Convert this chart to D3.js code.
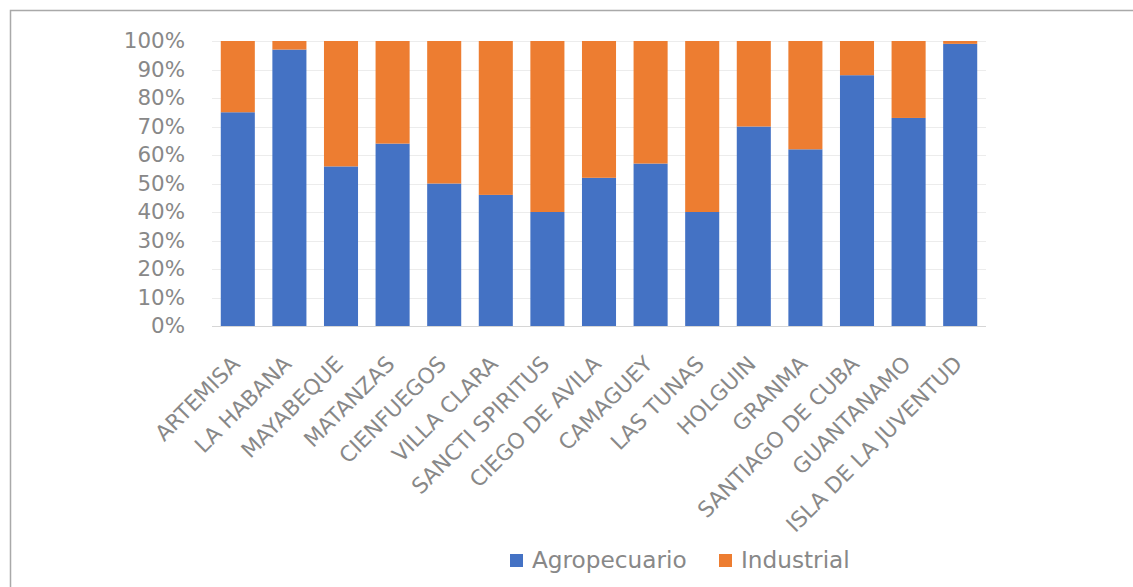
<!DOCTYPE html>
<html>
<head>
<meta charset="utf-8">
<script src="https://cdn.jsdelivr.net/npm/d3@7"></script>
<style>
  html, body { margin: 0; padding: 0; background: #fff; }
  svg { display: block; }
  text { font-family: "DejaVu Sans", sans-serif; fill: #888888; }
</style>
</head>
<body>
<svg id="chart" width="1133" height="587"></svg>
<script>
// Provinces (category axis)
const provincias = [
  "ARTEMISA", "LA HABANA", "MAYABEQUE", "MATANZAS", "CIENFUEGOS",
  "VILLA CLARA", "SANCTI SPIRITUS", "CIEGO DE AVILA", "CAMAGUEY",
  "LAS TUNAS", "HOLGUIN", "GRANMA", "SANTIAGO DE CUBA", "GUANTANAMO",
  "ISLA DE LA JUVENTUD"
];
// Share of each sector per province (%)
const agropecuario = [75, 97, 56, 64, 50, 46, 40, 52, 57, 40, 70, 62, 88, 73, 99];
const industrial   = [25,  3, 44, 36, 50, 54, 60, 48, 43, 60, 30, 38, 12, 27,  1];
const series = ["Agropecuario", "Industrial"];
const colores = ["#4472C4", "#ED7D31"];
const yTicks = [0, 10, 20, 30, 40, 50, 60, 70, 80, 90, 100];

const FONT = "'DejaVu Sans', sans-serif";
const TEXT = "#888888";
const svg = d3.select("#chart");

// chart frame
svg.append("rect")
  .attr("x", 10.5).attr("y", 10.5)
  .attr("width", 1140).attr("height", 600)
  .attr("fill", "none").attr("stroke", "#a9a9a9").attr("stroke-width", 1.5);

const x = d3.scaleBand().domain(provincias).range([212, 986]).paddingInner(0.34).paddingOuter(0.17);
const y = d3.scaleLinear().domain([0, 100]).range([326, 41]);

// horizontal gridlines
svg.append("g").selectAll("line")
  .data(yTicks)
  .join("line")
  .attr("x1", 212).attr("x2", 986)
  .attr("y1", d => Math.round(y(d)) + 0.5).attr("y2", d => Math.round(y(d)) + 0.5)
  .attr("stroke", d => d === 0 ? "#d6d6d6" : "#ececec")
  .attr("stroke-width", 1);

// y axis labels
const yAxis = d3.axisLeft(y).tickValues(yTicks).tickFormat(d => d + "%").tickSize(0).tickPadding(0);
const gy = svg.append("g").attr("transform", "translate(185,0)").call(yAxis);
gy.select(".domain").remove();
gy.selectAll("text").attr("font-size", 21.4).attr("fill", TEXT)
  .style("font-family", FONT);

// stacked bars
const rows = provincias.map((p, i) => ({ p, Agropecuario: agropecuario[i], Industrial: industrial[i] }));
const stacked = d3.stack().keys(series)(rows);

svg.append("g").selectAll("g")
  .data(stacked)
  .join("g")
  .attr("fill", (d, i) => colores[i])
  .selectAll("rect")
  .data(d => d)
  .join("rect")
  .attr("x", d => x(d.data.p))
  .attr("width", x.bandwidth())
  .attr("y", d => y(d[1]))
  .attr("height", d => y(d[0]) - y(d[1]));

// rotated category labels
const xAxis = d3.axisBottom(x).tickSize(0).tickPadding(0);
const gx = svg.append("g").attr("transform", "translate(0,326)").call(xAxis);
gx.select(".domain").remove();
gx.selectAll("text")
  .attr("font-size", 21.6)
  .attr("fill", TEXT)
  .style("font-family", FONT)
  .attr("text-anchor", "end")
  .attr("y", 0).attr("dy", "0.35em")
  .attr("transform", "translate(-2,34) rotate(-45)");

// legend
const legend = svg.append("g").attr("transform", "translate(510,561)");
const items = legend.selectAll("g").data(series).join("g")
  .attr("transform", (d, i) => `translate(${i * 209},0)`);
items.append("rect").attr("x", 0).attr("y", -7).attr("width", 13).attr("height", 13)
  .attr("fill", (d, i) => colores[i]);
items.append("text").attr("x", 22).attr("y", 6.5)
  .attr("font-size", 23.2).attr("fill", TEXT).text(d => d);
</script>
</body>
</html>
